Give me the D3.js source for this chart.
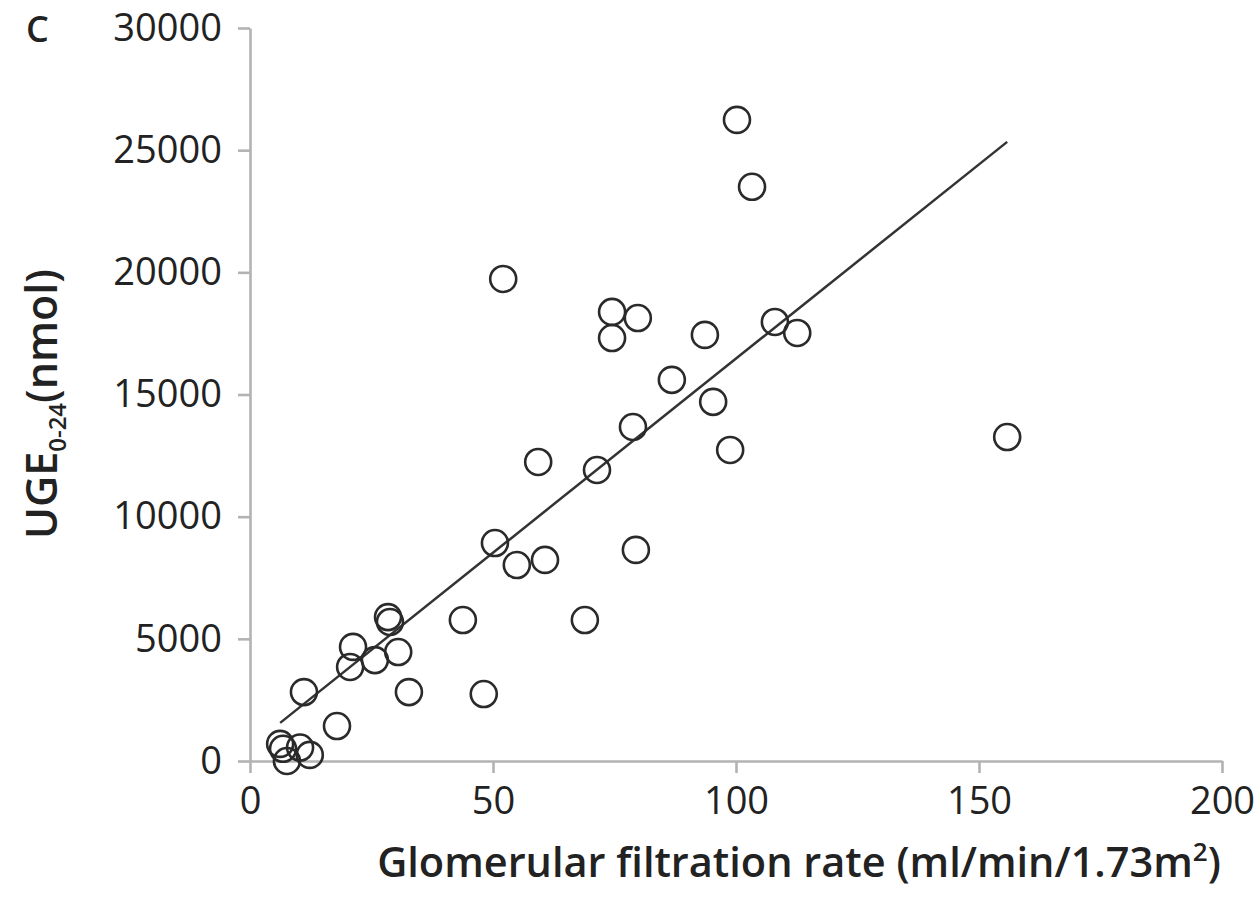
<!DOCTYPE html>
<html>
<head>
<meta charset="utf-8">
<script src="https://cdn.jsdelivr.net/npm/d3@7/dist/d3.min.js"></script>
<style>
  html, body { margin: 0; padding: 0; background: #fff; }
  svg { display: block; }
  text { font-family: "Open Sans", "DejaVu Sans", sans-serif; fill: #222; }
</style>
</head>
<body>
<svg id="chart" width="1260" height="908"></svg>
<script>
// ---- data ----
const gfr = [100.2, 103.3, 52.1, 74.5, 79.8, 74.5, 93.6, 108.0, 112.6, 86.8,
             95.3, 78.8, 98.8, 155.8, 71.4, 59.3, 50.4, 54.9, 60.7, 79.4,
             43.8, 68.9, 28.4, 28.8, 21.2, 20.6, 25.7, 30.5, 11.1, 32.7,
             48.1, 17.9, 6.2, 6.8, 7.6, 10.3, 12.3];
const uge = [26240, 23500, 19730, 18380, 18130, 17310, 17440, 17970, 17520, 15600,
             14700, 13670, 12730, 13260, 11910, 12240, 8920, 8020, 8230, 8640,
             5770, 5770, 5890, 5690, 4670, 3850, 4130, 4460, 2820, 2820,
             2740, 1430, 700, 500, 0, 550, 250];
const trendX = [6.2, 155.8];
const trendY = [1560, 25340];
const xTicks = [0, 50, 100, 150, 200];
const yTicks = [0, 5000, 10000, 15000, 20000, 25000, 30000];

const svg = d3.select("#chart");
const x = d3.scaleLinear().domain([0, 200]).range([250, 1222]);
const y = d3.scaleLinear().domain([0, 30000]).range([761, 28]);

const axisColor = "#b3b3b3";

// y axis
const yAxis = d3.axisLeft(y).tickValues(yTicks).tickSize(12).tickSizeOuter(0).tickFormat(d3.format("d"));
const gy = svg.append("g").attr("transform", `translate(${x(0)},0)`).call(yAxis);
gy.select(".domain").attr("stroke", axisColor).attr("stroke-width", 2.6);
gy.selectAll(".tick line").attr("stroke", axisColor).attr("stroke-width", 2.6);
gy.selectAll(".tick text").attr("x", -28).attr("font-size", 38).attr("fill", "#222")
  .attr("font-family", "'Open Sans', sans-serif");

// x axis
const xAxis = d3.axisBottom(x).tickValues(xTicks).tickSize(12).tickSizeOuter(0).tickFormat(d3.format("d"));
const gx = svg.append("g").attr("transform", `translate(0,${y(0)})`).call(xAxis);
gx.select(".domain").attr("stroke", axisColor).attr("stroke-width", 2.6);
gx.selectAll(".tick line").attr("stroke", axisColor).attr("stroke-width", 2.6);
gx.selectAll(".tick text").attr("y", 26).attr("font-size", 38).attr("fill", "#222")
  .attr("font-family", "'Open Sans', sans-serif");

// trend line
const pts = trendX.map((v, i) => [v, trendY[i]]);
svg.append("path")
  .attr("d", d3.line().x(d => x(d[0])).y(d => y(d[1]))(pts))
  .attr("stroke", "#333").attr("stroke-width", 2.5).attr("fill", "none");

// points
const data = gfr.map((v, i) => ({ g: v, u: uge[i] }));
svg.append("g").selectAll("circle").data(data).join("circle")
  .attr("cx", d => x(d.g)).attr("cy", d => y(d.u)).attr("r", 13)
  .attr("fill", "none").attr("stroke", "#2a2a2a").attr("stroke-width", 2.6);

// titles
svg.append("text").attr("x", 799).attr("y", 877).attr("text-anchor", "middle")
  .attr("font-size", 41.5).attr("font-weight", 600)
  .html('Glomerular filtration rate (ml/min/1.73m<tspan font-size="26" dy="-16">2</tspan><tspan dy="16">)</tspan>');

const yt = svg.append("text").attr("transform", "translate(57,404) rotate(-90)")
  .attr("text-anchor", "middle").attr("font-size", 43).attr("font-weight", 600);
yt.append("tspan").text("UGE");
yt.append("tspan").attr("font-size", 24).attr("dy", 9).text("0-24");
yt.append("tspan").attr("dy", -9).text("(nmol)");

svg.append("text").attr("x", 26).attr("y", 42).attr("font-size", 36).attr("font-weight", 600).text("C");
</script>
</body>
</html>
